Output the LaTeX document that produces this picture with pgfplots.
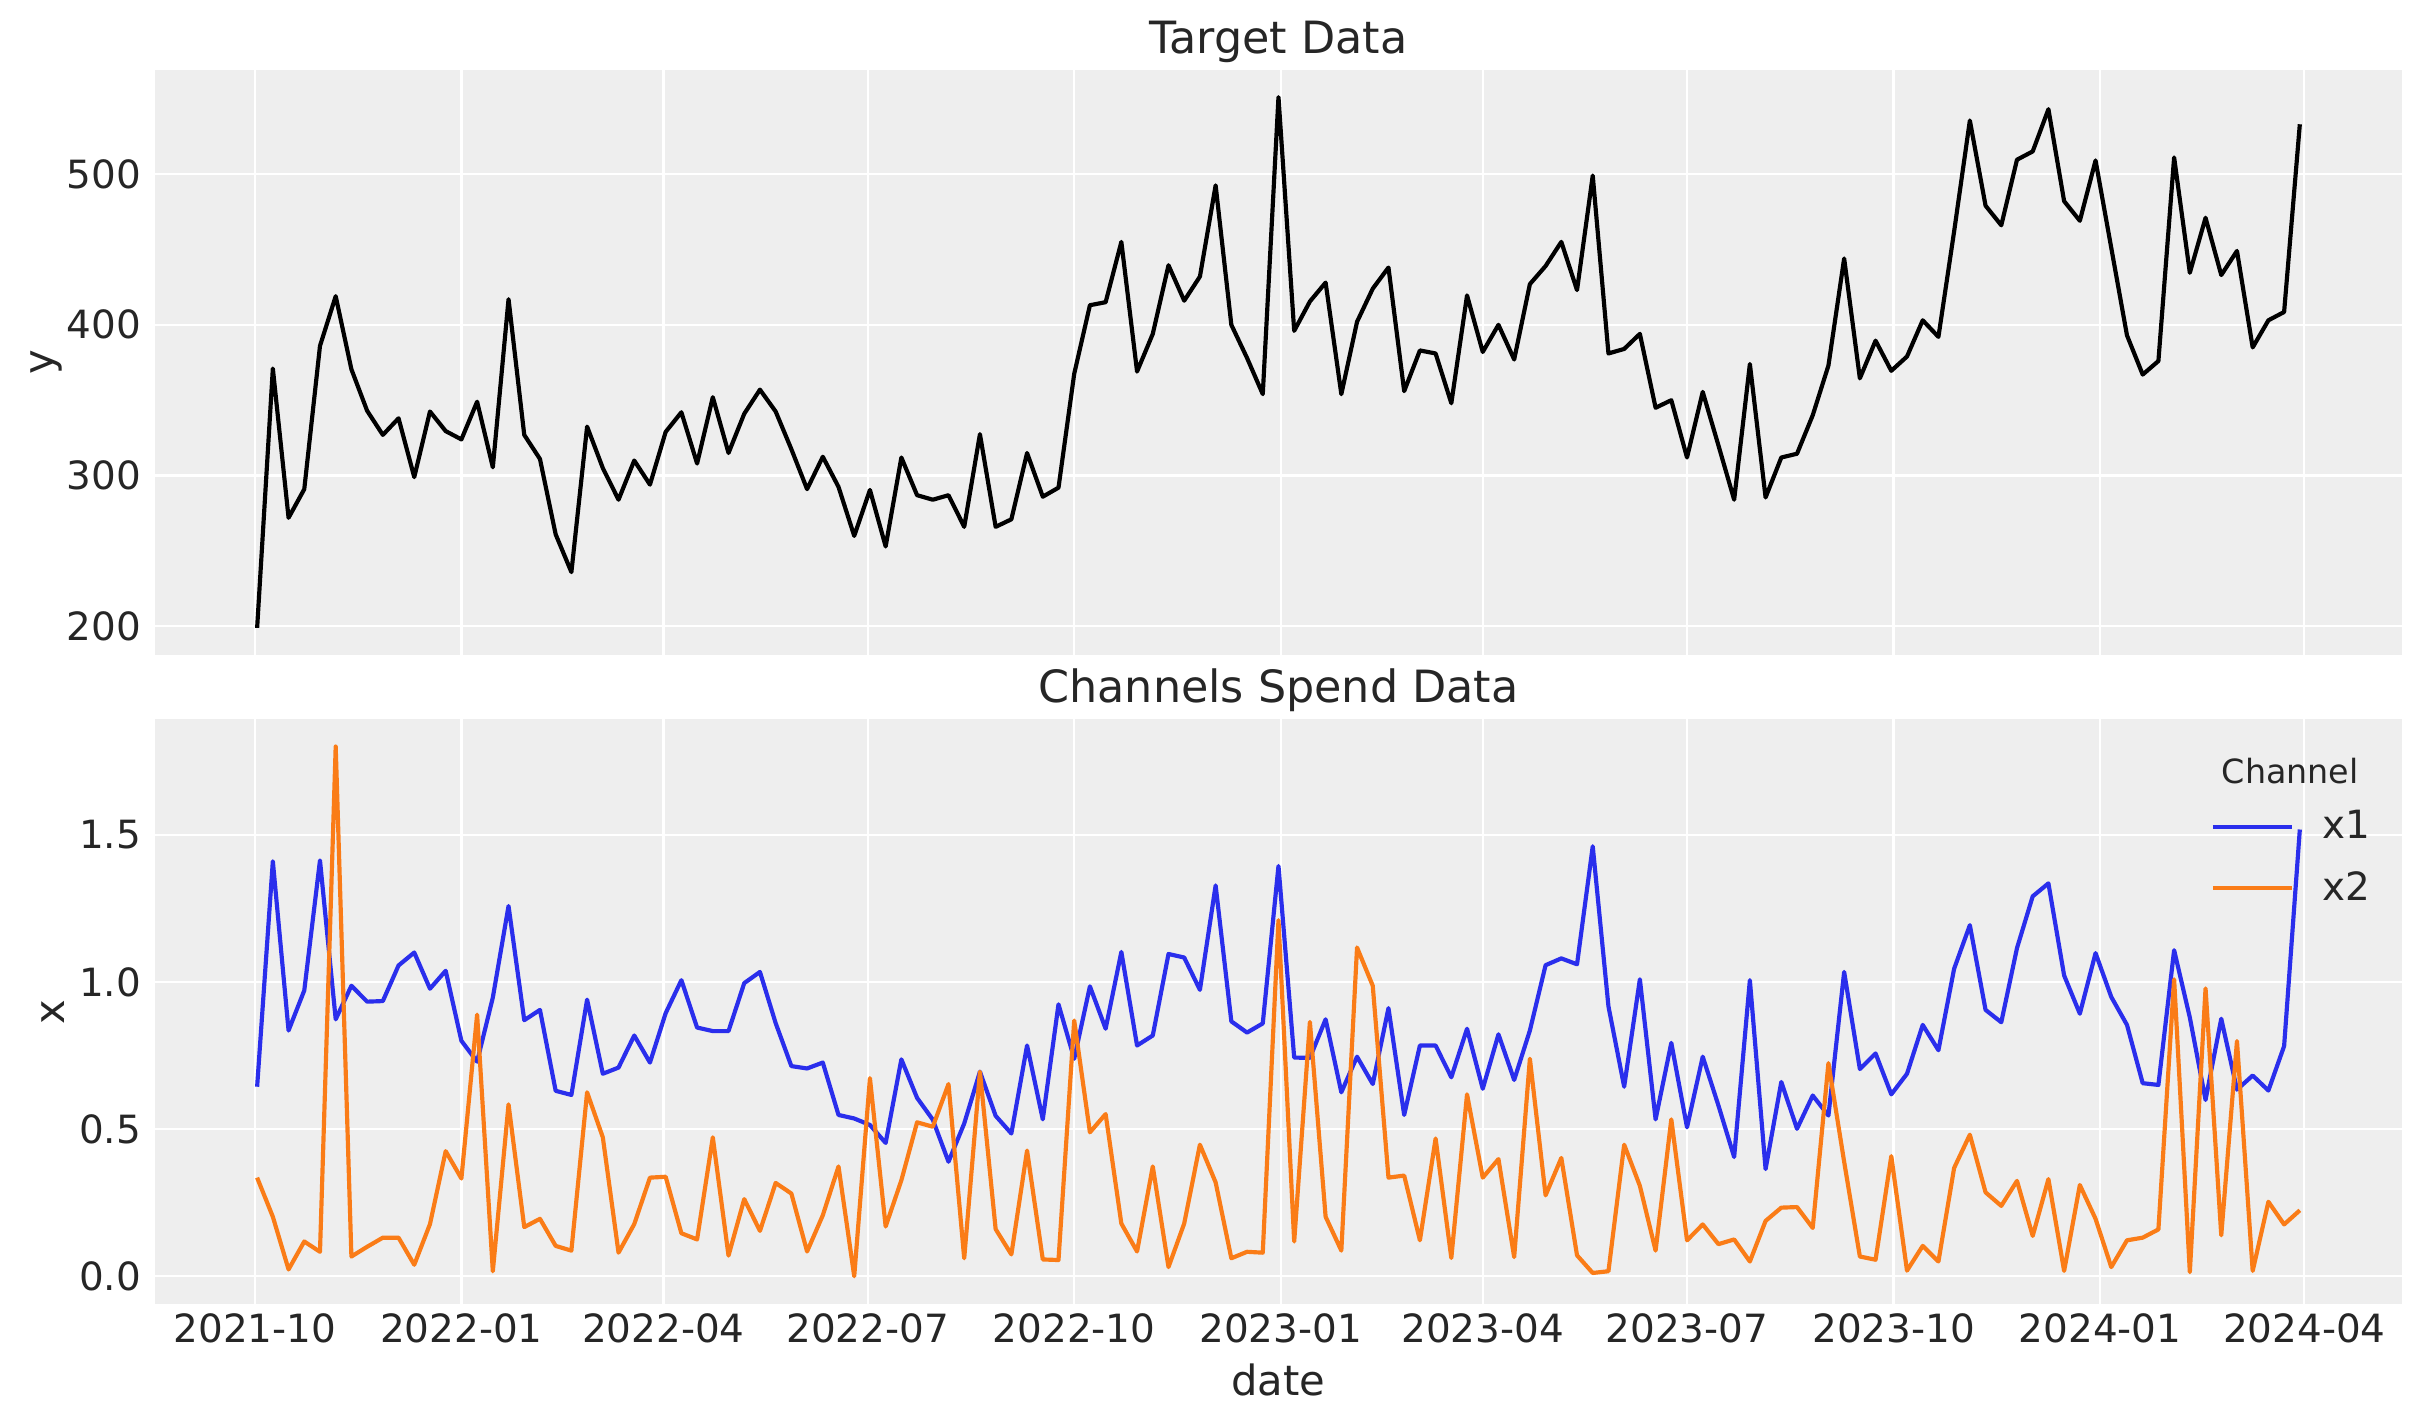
\documentclass[border=0pt]{standalone}
\usepackage{fontspec}
\setmainfont{DejaVu Sans}
\usepackage{pgfplots}
\usepackage{pgfplotstable}
\pgfplotsset{compat=1.18}
\definecolor{bg}{HTML}{EEEEEE}
\definecolor{txt}{HTML}{262626}
\definecolor{cblue}{HTML}{2A2EEC}
\definecolor{corange}{HTML}{FA7C17}

\pgfplotstableread{
d y x1 x2
1 199 0.644 0.335
8 371 1.410 0.202
15 272 0.835 0.023
22 291 0.971 0.118
29 386 1.413 0.083
36 419 0.873 1.800
43 370.5 0.987 0.067
50 343 0.933 0.100
57 327 0.935 0.131
64 338 1.056 0.131
71 299 1.100 0.039
78 342.5 0.977 0.177
85 329.5 1.038 0.425
92 324 0.800 0.332
99 349 0.729 0.889
106 305.5 0.947 0.017
113 417 1.258 0.584
120 327 0.870 0.167
127 311 0.905 0.195
134 261 0.630 0.103
141 236 0.616 0.087
148 332.5 0.940 0.625
155 305 0.688 0.472
162 284 0.709 0.080
169 310 0.818 0.177
176 294 0.726 0.335
183 329 0.894 0.338
190 342 1.006 0.146
197 308 0.845 0.125
204 352 0.833 0.472
211 315 0.833 0.070
218 341 0.996 0.262
225 357 1.034 0.154
232 342.5 0.860 0.317
239 317.5 0.714 0.281
246 291 0.706 0.084
253 312.5 0.726 0.207
260 292.5 0.548 0.373
267 260 0.536 0.000
274 290.5 0.514 0.673
281 253 0.453 0.169
288 312 0.737 0.326
295 287 0.606 0.523
302 284 0.532 0.508
309 287 0.389 0.653
316 266 0.519 0.061
323 327.5 0.695 0.695
330 266 0.545 0.160
337 271 0.485 0.074
344 315 0.784 0.427
351 286 0.533 0.057
358 292 0.924 0.055
365 367.5 0.739 0.869
372 413 0.985 0.489
379 415 0.841 0.551
386 455 1.102 0.179
393 369 0.784 0.084
400 394 0.818 0.373
407 439.5 1.095 0.031
414 416 1.083 0.179
421 432 0.973 0.447
428 492.5 1.328 0.319
435 400 0.866 0.061
442 378 0.828 0.083
449 354 0.859 0.080
456 551 1.394 1.210
463 396 0.743 0.118
470 415.5 0.742 0.864
477 428 0.873 0.202
484 354 0.625 0.087
491 402 0.746 1.117
498 424 0.653 0.987
505 438 0.911 0.335
512 356 0.548 0.342
519 383 0.784 0.122
526 381 0.784 0.468
533 348 0.676 0.062
540 419.5 0.841 0.618
547 382 0.637 0.335
554 400 0.822 0.398
561 377 0.667 0.065
568 427 0.835 0.739
575 439 1.057 0.275
582 455 1.080 0.402
589 423 1.060 0.071
596 499 1.461 0.011
603 381 0.917 0.017
610 384 0.644 0.447
617 394 1.009 0.307
624 345 0.533 0.087
631 350 0.793 0.533
638 312 0.506 0.122
645 355.5 0.746 0.176
652 320 0.580 0.109
659 284 0.405 0.125
666 374 1.006 0.050
673 285.5 0.364 0.188
680 312 0.660 0.233
687 314.5 0.501 0.235
694 340 0.614 0.164
701 373 0.546 0.724
708 444 1.034 0.389
715 364.5 0.704 0.067
722 389.5 0.757 0.056
729 369.5 0.618 0.408
736 379 0.688 0.019
743 403 0.854 0.103
750 392 0.768 0.050
757 462 1.045 0.368
764 535.5 1.193 0.481
771 479 0.905 0.285
778 466 0.863 0.239
785 509.5 1.115 0.324
792 515 1.291 0.137
799 543 1.335 0.330
806 482 1.022 0.018
813 469 0.892 0.310
820 509 1.098 0.195
827 451 0.949 0.031
834 393 0.854 0.122
841 367 0.656 0.131
848 376 0.650 0.159
855 511 1.108 1.009
862 434.5 0.879 0.014
869 471 0.599 0.978
876 433 0.875 0.139
883 449 0.634 0.799
890 385 0.682 0.018
897 403 0.631 0.253
904 408.5 0.782 0.176
911 533 1.518 0.224
}\data

\pgfplotsset{
  common/.style={
    scale only axis, width=808.9pt, height=210.5pt,
    xmin=-44.5, xmax=956.5,
    axis background/.style={fill=bg},
    axis line style={draw=none},
    major tick length=0pt,
    tick style={draw=none},
    grid=major,
    major grid style={white, line width=0.8pt},
    xtick={0,92,182,273,365,457,547,638,730,822,913},
    ticklabel style={font=\fontsize{14}{16}\selectfont, text=txt},
    yticklabel style={inner sep=0pt, anchor=east, xshift=-4.8pt},
    xticklabel style={inner sep=0pt, anchor=north, yshift=-3.3pt},
    every axis title/.style={at={([yshift=6pt]axis description cs:0.5,1)}, anchor=base, inner sep=0pt, font=\fontsize{16}{19}\selectfont, text=txt},
    every axis x label/.style={at={([yshift=-32.8pt]axis description cs:0.5,0)}, anchor=base, inner sep=0pt, font=\fontsize{15}{18}\selectfont, text=txt},
    line join=round,
  }
}

\begin{document}
\begin{tikzpicture}
\path[use as bounding box] (0,0) rectangle (872.28pt,512.28pt);
\begin{axis}[common,
  at={(55.8pt,276.58pt)}, anchor=south west,
  ymin=181.2, ymax=569,
  xticklabels=\empty,
  ytick={200,300,400,500},
  yticklabels={200,300,400,500},
  title={Target Data},
  every axis y label/.style={at={([xshift=-36.5pt]axis description cs:0,0.5)}, rotate=90, anchor=base, inner sep=0pt, font=\fontsize{15}{18}\selectfont, text=txt},
  ylabel={y},
]
\addplot[black, line width=1.5pt] table[x=d, y=y] {\data};
\end{axis}
\begin{axis}[common,
  at={(55.8pt,42.78pt)}, anchor=south west,
  ymin=-0.095, ymax=1.892,
  xticklabels={2021-10,2022-01,2022-04,2022-07,2022-10,2023-01,2023-04,2023-07,2023-10,2024-01,2024-04},
  ytick={0,0.5,1,1.5},
  yticklabels={0.0,0.5,1.0,1.5},
  title={Channels Spend Data},
  xlabel={date},
  every axis y label/.style={at={([xshift=-32.7pt]axis description cs:0,0.5)}, rotate=90, anchor=base, inner sep=0pt, font=\fontsize{15}{18}\selectfont, text=txt},
  ylabel={x},
  legend style={draw=none, fill=none, inner sep=0pt, outer sep=0pt,
    at={([xshift=740.1pt,yshift=-32.8pt]axis description cs:0,1)}, anchor=north west,
    font=\fontsize{14}{16}\selectfont, text=txt,
    column sep=10.2pt, row sep=10.3pt, nodes={inner sep=0pt}},
  legend cell align=left,
  legend image code/.code={\draw[#1] (0pt,0pt) -- (28.4pt,0pt);},
]
\addplot[cblue, line width=1.5pt] table[x=d, y=x1] {\data};
\addlegendentry{x1}
\addplot[corange, line width=1.5pt] table[x=d, y=x2] {\data};
\addlegendentry{x2}
\node[font=\fontsize{12}{14}\selectfont, text=txt, anchor=base, inner sep=0pt] at ([xshift=768.7pt,yshift=-22.9pt]axis description cs:0,1) {Channel};
\end{axis}
\end{tikzpicture}
\end{document}
